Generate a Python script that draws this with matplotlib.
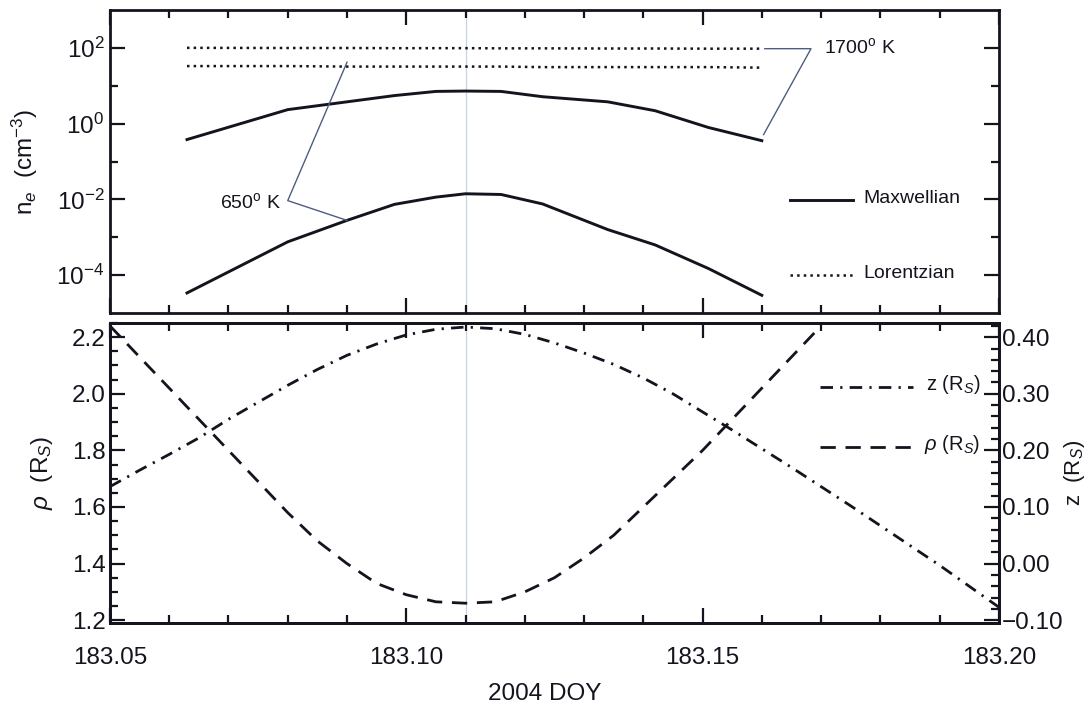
import numpy as np
import matplotlib
matplotlib.use("Agg")
import matplotlib.pyplot as plt
from matplotlib.ticker import FixedLocator, MultipleLocator, FuncFormatter, NullFormatter

plt.rcParams['font.family'] = ['Liberation Sans', 'DejaVu Sans']
plt.rcParams['mathtext.fontset'] = 'custom'
plt.rcParams['mathtext.rm'] = 'Liberation Sans'
plt.rcParams['mathtext.it'] = 'Liberation Sans:italic'

# --- top panel: electron density, 2004 DOY
doy_ne = [183.063, 183.080, 183.090, 183.098, 183.105, 183.110,
          183.116, 183.123, 183.134, 183.142, 183.151, 183.160]
maxw_1700 = [0.38, 2.34, 3.76, 5.5, 7.08, 7.24, 7.08, 5.13, 3.76, 2.19, 0.79, 0.355]
maxw_650 = [3.4e-5, 7.6e-4, 2.8e-3, 7.4e-3, 1.15e-2, 1.41e-2,
            1.35e-2, 7.6e-3, 1.6e-3, 6.3e-4, 1.5e-4, 2.95e-5]
lor_1700 = [100, 99, 99, 98, 98, 98, 97, 97, 96, 96, 95, 95]
lor_650 = [33, 33, 32, 32, 32, 32, 32, 31, 31, 31, 31, 30]

# --- bottom panel: rho and z
doy_rho = [183.050, 183.055, 183.060, 183.065, 183.070, 183.075, 183.080,
           183.085, 183.090, 183.095, 183.100, 183.105, 183.110, 183.115,
           183.120, 183.125, 183.130, 183.135, 183.140, 183.145, 183.150,
           183.155, 183.160, 183.165, 183.170]
rho = [2.24, 2.13, 2.02, 1.91, 1.80, 1.69, 1.58, 1.48, 1.40, 1.33, 1.29,
       1.265, 1.26, 1.265, 1.30, 1.35, 1.42, 1.50, 1.60, 1.70, 1.80,
       1.91, 2.02, 2.13, 2.24]
doy_z = [183.050, 183.055, 183.060, 183.065, 183.070, 183.075, 183.080,
         183.085, 183.090, 183.095, 183.100, 183.105, 183.110, 183.115,
         183.120, 183.125, 183.130, 183.135, 183.140, 183.145, 183.150,
         183.155, 183.160, 183.165, 183.170, 183.175, 183.180, 183.185,
         183.190, 183.195, 183.200]
z = [0.136, 0.165, 0.193, 0.222, 0.255, 0.285, 0.315, 0.343, 0.368, 0.388,
     0.404, 0.414, 0.418, 0.415, 0.405, 0.390, 0.372, 0.352, 0.328, 0.300,
     0.268, 0.236, 0.203, 0.170, 0.136, 0.102, 0.067, 0.032, -0.003,
     -0.040, -0.077]

xticks = [183.05, 183.10, 183.15, 183.20]
xticklabels = ['183.05', '183.10', '183.15', '183.20']

ink = '#14141f'
lead = '#4d5d80'
fs = 17.5

fig = plt.figure(figsize=(10.92, 7.10), dpi=100)
ax1 = fig.add_axes([0.1007, 0.559, 0.814, 0.427])
ax2 = fig.add_axes([0.1007, 0.1225, 0.814, 0.4225])
ax3 = ax2.twinx()

for ax in (ax1, ax2):
    ax.axvline(183.11, color='#c9d2de', lw=0.9, zorder=0)

# top panel
ax1.plot(doy_ne, maxw_1700, color=ink, lw=2.1)
ax1.plot(doy_ne, maxw_650, color=ink, lw=2.1)
ax1.plot(doy_ne, lor_1700, color=ink, lw=1.8, ls=':')
ax1.plot(doy_ne, lor_650, color=ink, lw=1.8, ls=':')
ax1.set_yscale('log')
ax1.set_ylim(1e-5, 1e3)
ax1.set_xlim(183.05, 183.20)

# leader lines for temperature labels
xe = doy_ne[-1]
ax1.plot([xe + 0.0005, xe + 0.0083, xe + 0.0003],
         [lor_1700[-1], lor_1700[-1], maxw_1700[-1] * 1.45], color=lead, lw=1.0)
ax1.text(xe + 0.0105, lor_1700[-1] * 1.1, '1700$^{\\rm o}$ K', fontsize=14,
         color=ink, va='center', ha='left')
ax1.plot([doy_ne[2], doy_ne[1], doy_ne[2]],
         [lor_650[2] * 1.3, 1e-2 * 0.93, maxw_650[2]], color=lead, lw=1.0)
ax1.text(doy_ne[1] - 0.0012, 1e-2 * 0.85, '650$^{\\rm o}$ K', fontsize=14,
         color=ink, va='center', ha='right')

# top legend
ax1.plot([0.765, 0.836], [0.373, 0.373], transform=ax1.transAxes, color=ink, lw=2.1)
ax1.text(0.848, 0.378, 'Maxwellian', transform=ax1.transAxes, fontsize=14,
         color=ink, va='center', ha='left')
ax1.plot([0.765, 0.836], [0.125, 0.125], transform=ax1.transAxes, color=ink,
         lw=1.8, ls=':')
ax1.text(0.848, 0.13, 'Lorentzian', transform=ax1.transAxes, fontsize=14,
         color=ink, va='center', ha='left')

ax1.yaxis.set_major_locator(FixedLocator([1e-4, 1e-2, 1e0, 1e2]))
ax1.yaxis.set_minor_locator(FixedLocator([1e-3, 1e-1, 1e1]))
ax1.yaxis.set_major_formatter(FuncFormatter(lambda v, p: '$10^{%d}$' % round(np.log10(v))))
ax1.yaxis.set_minor_formatter(NullFormatter())
ax1.xaxis.set_major_locator(FixedLocator(xticks))
ax1.xaxis.set_minor_locator(MultipleLocator(0.01))
ax1.set_xticklabels([])
ax1.set_ylabel('n$_e$  (cm$^{-3}$)', fontsize=fs, color=ink)
ax1.yaxis.set_label_coords(-0.079, 0.5)

# bottom panel
ax2.plot(doy_rho, rho, color=ink, lw=2.0, dashes=(5.5, 3.5))
ax3.plot(doy_z, z, color=ink, lw=2.0, dashes=(4.5, 2.6, 0.8, 2.6))
ax2.set_xlim(183.05, 183.20)
ax2.set_ylim(1.19, 2.25)
ax3.set_ylim(-0.105, 0.425)

ax2.yaxis.set_major_locator(MultipleLocator(0.2))
ax2.yaxis.set_minor_locator(MultipleLocator(0.05))
ax2.yaxis.set_major_formatter(FuncFormatter(lambda v, p: '%.1f' % v))
ax3.yaxis.set_major_locator(MultipleLocator(0.1))
ax3.yaxis.set_minor_locator(MultipleLocator(0.02))
ax3.yaxis.set_major_formatter(FuncFormatter(lambda v, p: ('%.2f' % v).replace('-', '\u2212')))
ax2.xaxis.set_major_locator(FixedLocator(xticks))
ax2.xaxis.set_minor_locator(MultipleLocator(0.01))
ax2.set_xticklabels(xticklabels)

ax2.set_ylabel('$\\rho$  (R$_S$)', fontsize=fs, color=ink)
ax2.yaxis.set_label_coords(-0.062, 0.5)
ax3.set_ylabel('z  (R$_S$)', fontsize=16, color=ink)
ax3.yaxis.set_label_coords(1.071, 0.5)
ax2.set_xlabel('2004 DOY', fontsize=fs, color=ink)
ax2.xaxis.set_label_coords(0.489, -0.2)

# bottom legend
ax2.plot([0.799, 0.903], [0.787, 0.787], transform=ax2.transAxes, color=ink,
         lw=2.0, dashes=(4.5, 2.6, 0.8, 2.6))
ax2.text(0.979, 0.795, 'z (R$_S$)', transform=ax2.transAxes, fontsize=14.5,
         color=ink, va='center', ha='right')
ax2.plot([0.799, 0.903], [0.587, 0.587], transform=ax2.transAxes, color=ink,
         lw=2.0, dashes=(5.5, 3.5))
ax2.text(0.979, 0.595, '$\\rho$ (R$_S$)', transform=ax2.transAxes, fontsize=14.5,
         color=ink, va='center', ha='right')

# frame and ticks
for ax in (ax1, ax2, ax3):
    for s in ax.spines.values():
        s.set_linewidth(2.0)
        s.set_color(ink)
ax1.tick_params(which='both', direction='in', top=True, right=True, width=1.6,
                color=ink, labelsize=fs, labelcolor=ink, pad=4)
ax1.tick_params(which='major', length=11)
ax1.tick_params(which='minor', length=5.5)
ax2.tick_params(which='both', direction='in', top=True, right=False, width=1.6,
                color=ink, labelsize=fs, labelcolor=ink)
ax2.tick_params(axis='y', pad=3)
ax2.tick_params(axis='x', pad=17)
ax2.tick_params(which='major', length=11)
ax2.tick_params(which='minor', length=5.5)
ax3.tick_params(which='both', direction='in', width=1.6, color=ink,
                labelsize=fs, labelcolor=ink, pad=2)
ax3.tick_params(which='major', length=11)
ax3.tick_params(which='minor', length=5.5)

fig.savefig('out.png', dpi=100, facecolor='white')
